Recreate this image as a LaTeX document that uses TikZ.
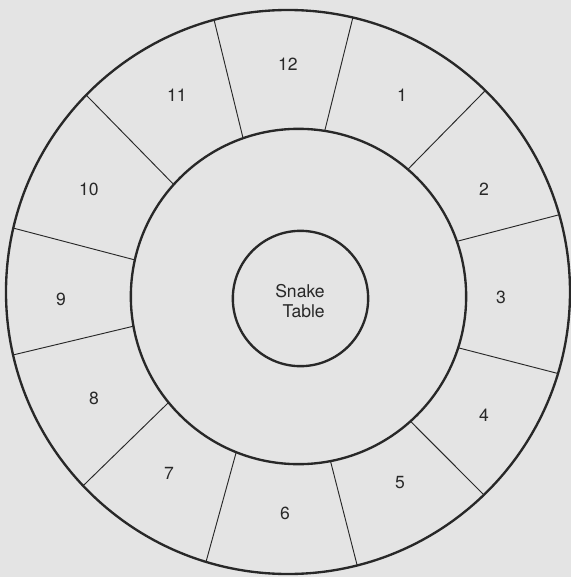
\documentclass[tikz,border=0pt]{standalone}
\usepackage{fontspec}
\setmainfont{TeX Gyre Heros}
\definecolor{page}{RGB}{228,228,228}
\definecolor{ink}{RGB}{40,40,40}
\tikzset{
  ring/.style={draw=ink, line width=2pt},
  spoke/.style={draw=ink, line width=0.8pt},
  seat/.style={text=ink, font=\fontsize{15}{17}\selectfont, inner sep=1pt},
}

\begin{document}
\begin{tikzpicture}

%% page (bounding box)
\fill[page] (-8.64,-8.55) rectangle (8.49,8.76);
\useasboundingbox (-8.64,-8.55) rectangle (8.49,8.76);

%% circle centres
\coordinate (oc) at (0,0);
\coordinate (mc) at (0.315,-0.135);
\coordinate (ic) at (0.375,-0.195);

%% rings
\draw[ring] (oc) circle (8.46);
\draw[ring] (mc) circle (5.03);
\draw[ring] (ic) circle (2.03);

%% table in the middle
\node[seat, align=right] (table) at (0.36,-0.27) {Snake\\Table};

%% spokes: angle on middle ring / angle on outer ring
\foreach \a/\b [count=\k] in {81/76.7, 109.3/105.2, 49.3/45.6, 19.2/15.9,
                   -17.8/-16.8, -48.1/-46, -79/-75.8, -111.8/-106.9,
                   -140.8/-136.6, -169.8/-167.1, 167.4/166.9, 138.1/135.7} {
  \coordinate (m\k) at ([shift={(\a:5.03)}]mc);
  \coordinate (o\k) at ([shift={(\b:8.46)}]oc);
  \draw[spoke] (m\k) -- (o\k);
}

%% seat numbers
\foreach \n/\x/\y in {12/0/6.84, 1/3.42/5.91, 2/5.88/3.09, 3/6.39/-0.15,
                      4/5.88/-3.69, 5/3.36/-5.73, 6/-0.09/-6.63,
                      7/-3.57/-5.43, 8/-5.82/-3.18, 9/-6.81/-0.21,
                      10/-5.97/3.09, 11/-3.33/5.91} {
  \node[seat] (s\n) at (\x,\y) {\n};
}

\end{tikzpicture}
\end{document}
